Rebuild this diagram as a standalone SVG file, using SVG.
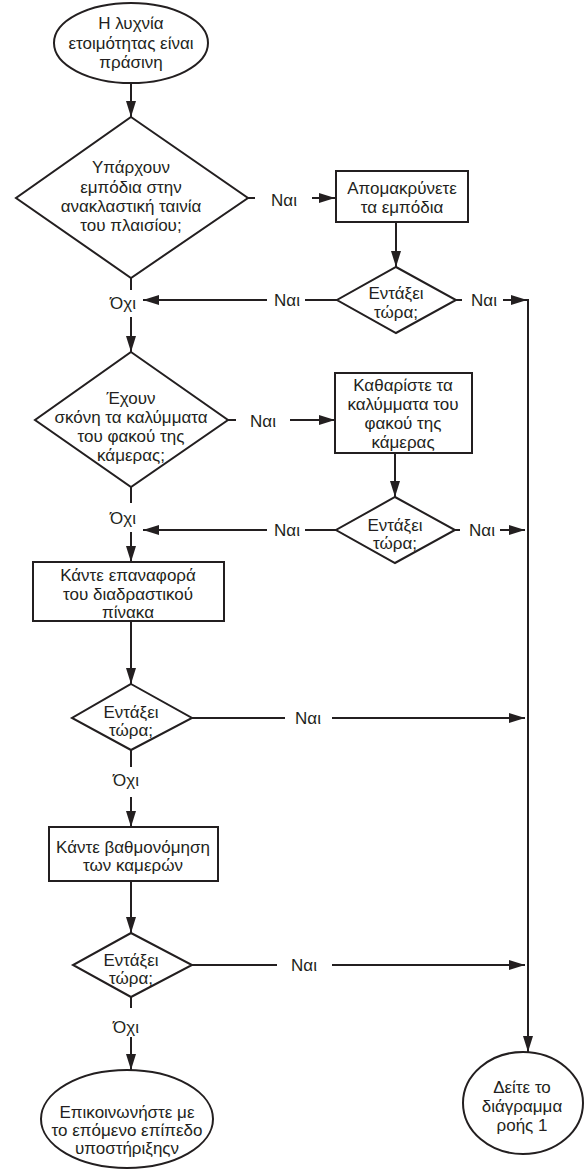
<svg xmlns="http://www.w3.org/2000/svg" width="584" height="1172" viewBox="0 0 584 1172">
<style>
.s{fill:#fff;stroke:#231f20;stroke-width:2}
.c{fill:none;stroke:#231f20;stroke-width:2}
text{font-family:"Liberation Sans",Arial,sans-serif;font-size:17px;fill:#231f20;text-anchor:middle}
</style>
<defs>
<marker id="ah" viewBox="0 0 16 10" refX="16" refY="5" markerWidth="16" markerHeight="10" markerUnits="userSpaceOnUse" orient="auto">
<path d="M0,0 L16,5 L0,10 z" fill="#231f20"/>
</marker>
</defs>
<rect width="584" height="1172" fill="#fff"/>
<g id="connectors">
<line class="c" x1="131" y1="83" x2="131" y2="117" marker-end="url(#ah)"/>
<line class="c" x1="248" y1="198" x2="255" y2="198"/>
<line class="c" x1="312" y1="198" x2="335" y2="198" marker-end="url(#ah)"/>
<line class="c" x1="396" y1="222" x2="396" y2="267" marker-end="url(#ah)"/>
<line class="c" x1="337" y1="300" x2="305" y2="300"/>
<line class="c" x1="267" y1="300" x2="143" y2="300" marker-end="url(#ah)"/>
<line class="c" x1="456" y1="300" x2="462" y2="300"/>
<line class="c" x1="503" y1="300" x2="527" y2="300" marker-end="url(#ah)"/>
<line class="c" x1="131" y1="278" x2="131" y2="290"/>
<line class="c" x1="131" y1="317" x2="131" y2="352" marker-end="url(#ah)"/>
<line class="c" x1="228" y1="420" x2="236" y2="420"/>
<line class="c" x1="290" y1="420" x2="335" y2="420" marker-end="url(#ah)"/>
<line class="c" x1="395" y1="453" x2="395" y2="497" marker-end="url(#ah)"/>
<line class="c" x1="336" y1="530" x2="305" y2="530"/>
<line class="c" x1="267" y1="530" x2="143" y2="530" marker-end="url(#ah)"/>
<line class="c" x1="455" y1="530" x2="460" y2="530"/>
<line class="c" x1="500" y1="530" x2="525" y2="530" marker-end="url(#ah)"/>
<line class="c" x1="131" y1="487" x2="131" y2="503"/>
<line class="c" x1="131" y1="532" x2="131" y2="562" marker-end="url(#ah)"/>
<line class="c" x1="131" y1="621" x2="131" y2="684" marker-end="url(#ah)"/>
<line class="c" x1="192" y1="718" x2="285" y2="718"/>
<line class="c" x1="332" y1="718" x2="525" y2="718" marker-end="url(#ah)"/>
<line class="c" x1="131" y1="750" x2="131" y2="767"/>
<line class="c" x1="131" y1="797" x2="131" y2="827" marker-end="url(#ah)"/>
<line class="c" x1="131" y1="881" x2="131" y2="933" marker-end="url(#ah)"/>
<line class="c" x1="192" y1="965" x2="277" y2="965"/>
<line class="c" x1="332" y1="965" x2="525" y2="965" marker-end="url(#ah)"/>
<line class="c" x1="131" y1="997" x2="131" y2="1008"/>
<line class="c" x1="131" y1="1037" x2="131" y2="1070" marker-end="url(#ah)"/>
<line class="c" x1="528" y1="299" x2="528" y2="1052" marker-end="url(#ah)"/>
<text x="284" y="206">Ναι</text>
<text x="287" y="306">Ναι</text>
<text x="484" y="306">Ναι</text>
<text x="123" y="309">Όχι</text>
<text x="263" y="427">Ναι</text>
<text x="287" y="536">Ναι</text>
<text x="482" y="536">Ναι</text>
<text x="123" y="524">Όχι</text>
<text x="308" y="724">Ναι</text>
<text x="126" y="786">Όχι</text>
<text x="304" y="971">Ναι</text>
<text x="126" y="1033">Όχι</text>
</g>
<g id="start">
<ellipse class="s" cx="131" cy="43" rx="77" ry="40"/>
<text x="131" y="29">Η λυχνία</text>
<text x="131" y="49">ετοιμότητας είναι</text>
<text x="131" y="68">πράσινη</text>
</g>
<g id="d1">
<polygon class="s" points="131,117 248,198 131,278 16,198"/>
<text x="131" y="173">Υπάρχουν</text>
<text x="131" y="193">εμπόδια στην</text>
<text x="131" y="212">ανακλαστική ταινία</text>
<text x="131" y="231">του πλαισίου;</text>
</g>
<g id="b1">
<rect class="s" x="336" y="171" width="132" height="51"/>
<text x="402" y="194">Απομακρύνετε</text>
<text x="402" y="213">τα εμπόδια</text>
</g>
<g id="d2">
<polygon class="s" points="396,267 456,300 396,333 337,300"/>
<text x="396" y="299">Εντάξει</text>
<text x="396" y="318">τώρα;</text>
</g>
<g id="d3">
<polygon class="s" points="131,352 228,420 131,487 35,420"/>
<text x="131" y="404">Έχουν</text>
<text x="131" y="423">σκόνη τα καλύμματα</text>
<text x="131" y="442">του φακού της</text>
<text x="131" y="461">κάμερας;</text>
</g>
<g id="b2">
<rect class="s" x="335" y="373" width="137" height="80"/>
<text x="403" y="391">Καθαρίστε τα</text>
<text x="403" y="410">καλύμματα του</text>
<text x="403" y="429">φακού της</text>
<text x="403" y="448">κάμερας</text>
</g>
<g id="d4">
<polygon class="s" points="395,497 455,530 395,563 336,530"/>
<text x="395" y="531">Εντάξει</text>
<text x="395" y="549">τώρα;</text>
</g>
<g id="b3">
<rect class="s" x="33" y="562" width="191" height="59"/>
<text x="128" y="581">Κάντε επαναφορά</text>
<text x="128" y="600">του διαδραστικού</text>
<text x="128" y="618">πίνακα</text>
</g>
<g id="d5">
<polygon class="s" points="131,684 192,718 131,750 72,718"/>
<text x="131" y="718">Εντάξει</text>
<text x="131" y="736">τώρα;</text>
</g>
<g id="b4">
<rect class="s" x="49" y="827" width="169" height="54"/>
<text x="133" y="853">Κάντε βαθμονόμηση</text>
<text x="133" y="871">των καμερών</text>
</g>
<g id="d6">
<polygon class="s" points="131,933 192,965 131,997 73,965"/>
<text x="131" y="966">Εντάξει</text>
<text x="131" y="984">τώρα;</text>
</g>
<g id="end1">
<ellipse class="s" cx="127" cy="1119" rx="86" ry="49"/>
<text x="127" y="1118">Επικοινωνήστε με</text>
<text x="127" y="1136">το επόμενο επίπεδο</text>
<text x="127" y="1154">υποστήριξηςν</text>
</g>
<g id="end2">
<ellipse class="s" cx="523" cy="1103" rx="60" ry="51"/>
<text x="522" y="1093">Δείτε το</text>
<text x="522" y="1112">διάγραμμα</text>
<text x="522" y="1131">ροής 1</text>
</g>
</svg>
